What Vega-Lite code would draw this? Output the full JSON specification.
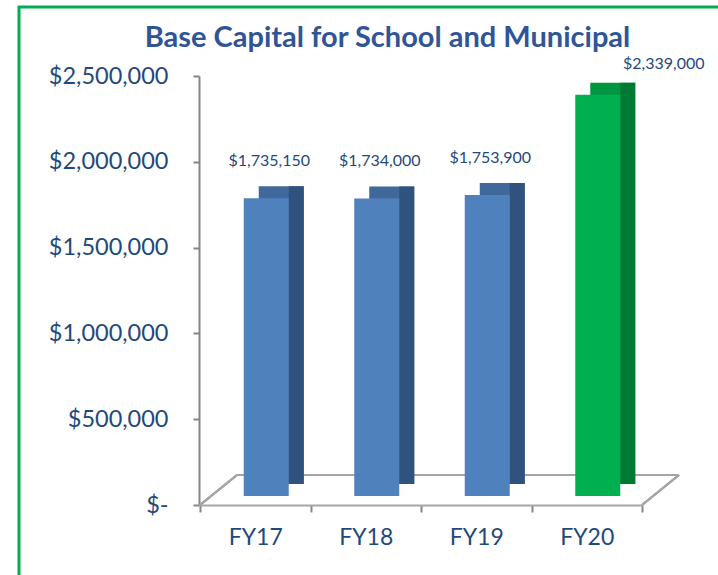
{
  "$schema": "https://vega.github.io/schema/vega-lite/v6.json",
  "width": 699,
  "height": 568,
  "autosize": {"type": "none"},
  "padding": {"left": 19, "top": 7, "right": 0, "bottom": 0},
  "background": "white",
  "config": {
    "font": "Lato",
    "view": {"stroke": "#00b050", "strokeWidth": 3, "strokeDash": [699, 1267, 568], "fill": "white"}
  },
  "title": {
    "text": "Base Capital for School and Municipal",
    "fontSize": 29,
    "fontWeight": "bold",
    "color": "#2f5597",
    "anchor": "middle",
    "dx": 19,
    "offset": -46
  },
  "data": {
    "values": [
      {"Year": "FY17", "value": 1735150},
      {"Year": "FY18", "value": 1734000},
      {"Year": "FY19", "value": 1753900},
      {"Year": "FY20", "value": 2339000}
    ]
  },
  "layer": [
    {
      "mark": {"type": "rule", "color": "#a6a6a6", "strokeWidth": 2, "xOffset": 37, "x2Offset": 37},
      "encoding": {
        "x": {"datum": "FY17", "type": "nominal", "bandPosition": 0,
          "scale": {"range": [181, 623], "paddingInner": 0, "paddingOuter": 0},
          "axis": {"title": null, "labelAngle": 0, "labelFontSize": 23, "labelColor": "#1f497d", "labelPadding": 14, "tickBand": "extent", "tickSize": 7, "tickColor": "#868686", "domainColor": "#a6a6a6", "domainWidth": 2, "tickWidth": 2, "offset": -70}},
        "x2": {"datum": "FY20", "bandPosition": 1},
        "y": {"datum": 175000, "type": "quantitative",
          "scale": {"domain": [0, 2500000], "range": [498, 69], "nice": false},
          "axis": {"title": null, "values": [0, 500000, 1000000, 1500000, 2000000, 2500000], "labelExpr": "datum.value === 0 ? '$-  ' : format(datum.value, '$,')", "labelFontSize": 23.5, "labelColor": "#1f497d", "labelPadding": 25, "tickSize": 6, "tickColor": "#868686", "domainColor": "#868686", "domainWidth": 2, "tickWidth": 2, "grid": false, "offset": -180}}
      }
    },
    {
      "mark": {"type": "rule", "color": "#a6a6a6", "strokeWidth": 2, "x2Offset": 37},
      "encoding": {
        "x": {"datum": "FY17", "type": "nominal", "bandPosition": 0},
        "x2": {"datum": "FY17", "bandPosition": 0},
        "y": {"datum": 0, "type": "quantitative"},
        "y2": {"datum": 175000}
      }
    },
    {
      "mark": {"type": "rule", "color": "#a6a6a6", "strokeWidth": 2, "x2Offset": 37},
      "encoding": {
        "x": {"datum": "FY20", "type": "nominal", "bandPosition": 1},
        "x2": {"datum": "FY20", "bandPosition": 1},
        "y": {"datum": 0, "type": "quantitative"},
        "y2": {"datum": 175000}
      }
    },
    {
      "mark": {"type": "bar", "width": 45, "xOffset": 26, "yOffset": -21, "y2Offset": -21},
      "encoding": {
        "x": {"field": "Year", "type": "nominal"},
        "y": {"field": "value", "type": "quantitative"},
        "y2": {"datum": 0},
        "color": {"condition": {"test": "datum.Year === 'FY20'", "value": "#00963f"}, "value": "#40689b"}
      }
    },
    {
      "mark": {"type": "bar", "width": 15, "xOffset": 41, "yOffset": -21, "y2Offset": -21},
      "encoding": {
        "x": {"field": "Year", "type": "nominal"},
        "y": {"field": "value", "type": "quantitative"},
        "y2": {"datum": 0},
        "color": {"condition": {"test": "datum.Year === 'FY20'", "value": "#007a33"}, "value": "#30527f"}
      }
    },
    {
      "mark": {"type": "bar", "width": 45, "xOffset": 11, "yOffset": -9, "y2Offset": -9},
      "encoding": {
        "x": {"field": "Year", "type": "nominal"},
        "y": {"field": "value", "type": "quantitative"},
        "y2": {"datum": 0},
        "color": {"condition": {"test": "datum.Year === 'FY20'", "value": "#00b050"}, "value": "#4f81bd"}
      }
    },
    {
      "transform": [{"filter": "datum.Year !== 'FY20'"}],
      "mark": {"type": "text", "xOffset": 14, "dy": -46, "fontSize": 16, "color": "#1f497d"},
      "encoding": {
        "x": {"field": "Year", "type": "nominal"},
        "y": {"field": "value", "type": "quantitative"},
        "text": {"field": "value", "type": "quantitative", "format": "$,.0f"}
      }
    },
    {
      "transform": [{"filter": "datum.Year === 'FY20'"}],
      "mark": {"type": "text", "xOffset": 77, "dy": -40, "fontSize": 16, "color": "#1f497d"},
      "encoding": {
        "x": {"field": "Year", "type": "nominal"},
        "y": {"field": "value", "type": "quantitative"},
        "text": {"field": "value", "type": "quantitative", "format": "$,.0f"}
      }
    }
  ]
}
